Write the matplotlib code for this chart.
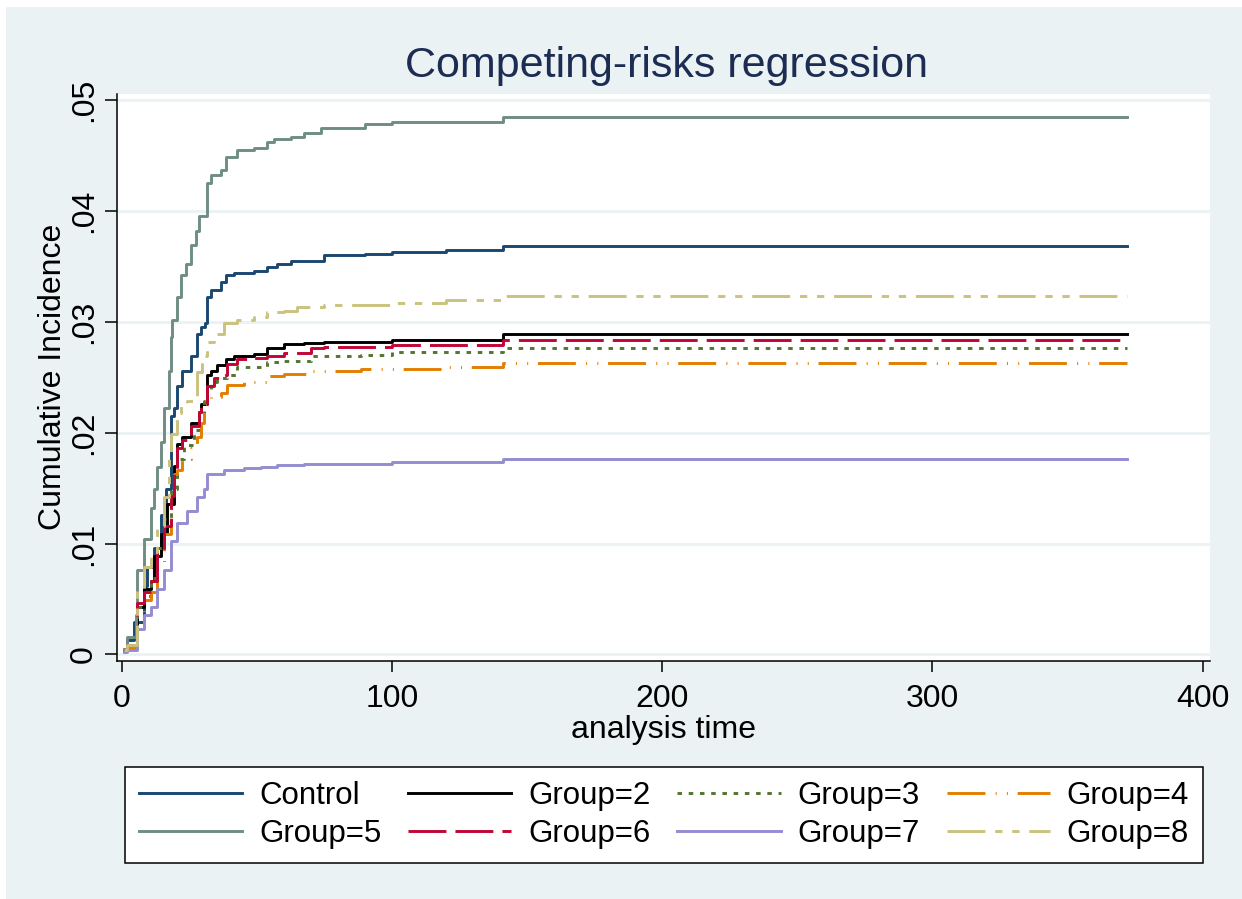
import matplotlib
matplotlib.use("Agg")
import matplotlib.pyplot as plt
from matplotlib.patches import Rectangle

plt.rcParams['font.family'] = ['Liberation Sans', 'DejaVu Sans']

# cumulative incidence (time, value); last point = end of follow-up
t_control = [1, 2.1, 4.6, 8.3, 9.5, 11.9, 14.4, 16.3, 18.1, 19.3, 20.6, 22.4, 25.5, 27.9, 29.2, 31.0, 31.7, 32.9, 36.6, 38.5, 41.6, 49.0, 53.9, 57.6, 62.5, 74.9, 90, 100, 120, 141, 372]
y_control = [0.0004, 0.0013, 0.0029, 0.0062, 0.0079, 0.0096, 0.0126, 0.0149, 0.0215, 0.0222, 0.0242, 0.0256, 0.0269, 0.0289, 0.0295, 0.0299, 0.0322, 0.0329, 0.0336, 0.0342, 0.0344, 0.0346, 0.0349, 0.0352, 0.0355, 0.0360, 0.0361, 0.0363, 0.0365, 0.0368, 0.0368]

t_g2 = [1, 2.1, 5.8, 8.3, 10.7, 11.9, 14.4, 16.9, 19.4, 20.6, 22.4, 25.5, 28.6, 29.2, 31.7, 32.9, 35.4, 38.5, 41.6, 49.0, 53.9, 60.0, 67.5, 74.9, 100, 141, 372]
y_g2 = [0.0004, 0.0009, 0.0043, 0.0059, 0.0066, 0.0089, 0.0109, 0.0136, 0.0170, 0.0190, 0.0196, 0.0209, 0.0219, 0.0226, 0.0252, 0.0256, 0.0261, 0.0266, 0.0269, 0.0271, 0.0276, 0.0280, 0.0281, 0.0282, 0.0284, 0.0289, 0.0289]

t_g3 = [1, 2.1, 5.8, 8.3, 10.7, 13.2, 15.7, 18.1, 20.6, 23.1, 26.8, 28.6, 30.4, 31.7, 32.9, 35.4, 39.1, 42.8, 53.9, 60.0, 69.9, 88.4, 100, 141, 372]
y_g3 = [0.0004, 0.0009, 0.0043, 0.0053, 0.0069, 0.0096, 0.0122, 0.0149, 0.0176, 0.0189, 0.0202, 0.0216, 0.0229, 0.0236, 0.0246, 0.0249, 0.0252, 0.0259, 0.0264, 0.0265, 0.0269, 0.0270, 0.0273, 0.0276, 0.0276]

t_g4 = [1, 2.1, 5.8, 8.3, 10.7, 13.2, 15.7, 18.1, 19.4, 20.6, 22.4, 25.5, 28.0, 29.2, 30.4, 32.9, 36.6, 39.1, 45.3, 53.9, 60.0, 69.9, 88.4, 120, 141, 372]
y_g4 = [0.0003, 0.0006, 0.0036, 0.0049, 0.0056, 0.0083, 0.0109, 0.0143, 0.0163, 0.0166, 0.0176, 0.0186, 0.0196, 0.0209, 0.0226, 0.0232, 0.0236, 0.0243, 0.0246, 0.0251, 0.0253, 0.0256, 0.0257, 0.0259, 0.0263, 0.0263]

t_g5 = [1, 2.1, 5.2, 5.8, 8.3, 10.7, 11.9, 13.2, 14.4, 15.7, 17.5, 18.1, 18.7, 20.6, 21.8, 23.7, 25.5, 27.4, 28.6, 31.7, 32.9, 36.6, 38.5, 42.8, 49.0, 53.9, 56.4, 62.5, 67.5, 73.6, 90, 100, 141, 372]
y_g5 = [0.0005, 0.0016, 0.0036, 0.0076, 0.0104, 0.0132, 0.0149, 0.0169, 0.0192, 0.0222, 0.0256, 0.0286, 0.0302, 0.0322, 0.0342, 0.0352, 0.0369, 0.0382, 0.0395, 0.0425, 0.0432, 0.0437, 0.0449, 0.0455, 0.0457, 0.0462, 0.0465, 0.0467, 0.0470, 0.0475, 0.0478, 0.0480, 0.0485, 0.0485]

t_g6 = [1, 2.1, 5.8, 8.3, 10.7, 13.2, 15.7, 18.1, 19.4, 20.6, 22.4, 25.5, 28.6, 29.2, 31.7, 34.1, 36.6, 39.1, 42.8, 49.0, 53.9, 60.0, 69.9, 74.9, 100, 141, 372]
y_g6 = [0.0004, 0.0009, 0.0046, 0.0056, 0.0066, 0.0096, 0.0116, 0.0143, 0.0166, 0.0186, 0.0193, 0.0206, 0.0219, 0.0226, 0.0242, 0.0249, 0.0252, 0.0262, 0.0266, 0.0267, 0.0269, 0.0272, 0.0276, 0.0277, 0.0279, 0.0284, 0.0284]

t_g7 = [1, 2.1, 5.8, 8.3, 10.7, 13.2, 15.7, 18.1, 20.6, 24.3, 28.0, 30.4, 31.7, 37.8, 45.3, 51.4, 57.6, 67.5, 100, 141, 372]
y_g7 = [0.0002, 0.0004, 0.0023, 0.0036, 0.0043, 0.0059, 0.0076, 0.0102, 0.0119, 0.0129, 0.0142, 0.0149, 0.0163, 0.0166, 0.0168, 0.0169, 0.0171, 0.0172, 0.0174, 0.0176, 0.0176]

t_g8 = [1, 2.1, 5.8, 8.3, 10.7, 13.2, 15.7, 17.5, 18.1, 20.6, 21.8, 24.3, 28.0, 29.8, 31.7, 34.1, 37.8, 42.8, 49.0, 53.9, 60.0, 65.0, 74.9, 100, 120, 141, 372]
y_g8 = [0.0004, 0.0009, 0.0059, 0.0079, 0.0092, 0.0116, 0.0142, 0.0176, 0.0199, 0.0218, 0.0225, 0.0229, 0.0255, 0.0269, 0.0282, 0.0289, 0.0299, 0.0302, 0.0304, 0.0309, 0.0310, 0.0313, 0.0315, 0.0317, 0.0320, 0.0323, 0.0323]

labels = ['Control', 'Group=2', 'Group=3', 'Group=4', 'Group=5', 'Group=6', 'Group=7', 'Group=8']
colors = ['#1A476F', '#000000', '#55752F', '#E37E00', '#6E8E84', '#C10534', '#938DD2', '#CAC27E']
styles = ['-', '-', (0, (1.55, 2.3)), (0, (13, 3.5, 0.35, 3.5, 0.35, 3.35)),
          '-', (0, (13, 3.1)), '-', (0, (13, 3.35, 2.5, 3.35, 2.5, 3.35))]

series = [(t_control, y_control), (t_g2, y_g2), (t_g3, y_g3), (t_g4, y_g4),
          (t_g5, y_g5), (t_g6, y_g6), (t_g7, y_g7), (t_g8, y_g8)]

bg = '#EAF2F3'
fig = plt.figure(figsize=(12.42, 8.99), dpi=100)
fig.patch.set_facecolor('white')
fig.patches.append(Rectangle((6 / 1242, 0), 1, 1 - 7 / 899, transform=fig.transFigure,
                             facecolor=bg, edgecolor='none', zorder=-10))

ax = fig.add_axes([116.7 / 1242, 1 - 660.7 / 899, (1210 - 116.7) / 1242, (660.7 - 94) / 899])
ax.set_zorder(1)
ax.set_facecolor('white')

lines = []
for (t, y), lab, c, ls in zip(series, labels, colors, styles):
    ln, = ax.step(t, y, where='post', color=c, linestyle=ls, linewidth=2.1, label=lab)
    lines.append(ln)

ax.set_xlim(-1.85, 402.7)
ax.set_ylim(-0.00056, 0.05054)
ax.set_xticks([0, 100, 200, 300, 400])
ax.set_yticks([0, 0.01, 0.02, 0.03, 0.04, 0.05])
ax.set_yticklabels(['0', '.01', '.02', '.03', '.04', '.05'], rotation=90, va='center')
ax.tick_params(axis='y', length=8.6, width=1.1, pad=4, labelsize=23)
ax.tick_params(axis='x', length=8, width=1.1, pad=9, labelsize=23)
ax.grid(axis='y', color=bg, linewidth=2)
ax.set_axisbelow(True)
for s in ['top', 'right']:
    ax.spines[s].set_visible(False)
for s in ['left', 'bottom']:
    ax.spines[s].set_linewidth(1.1)

ax.set_xlabel('analysis time', fontsize=23)
ax.xaxis.label.set_va('center')
ax.xaxis.set_label_coords(0.5, -(730 - 660.7) / 566.7)
ax.set_ylabel('Cumulative Incidence', fontsize=23)
ax.yaxis.label.set_va('center')
ax.yaxis.set_label_coords(-(116.7 - 53) / 1093.3, 0.5)

fig.text(666 / 1242, 1 - 76.7 / 899, 'Competing-risks regression', ha='center', va='baseline',
         fontsize=31, color='#1C2C52')

# matplotlib fills legend columns first, so reorder to get row-wise layout
order = [0, 4, 1, 5, 2, 6, 3, 7]
leg = fig.legend([lines[i] for i in order], [labels[i] for i in order], ncol=4, loc='center',
                 bbox_to_anchor=(664 / 1242, 1 - 815 / 899), fontsize=22.5, frameon=True,
                 fancybox=False, edgecolor='black', facecolor='white', framealpha=1,
                 handlelength=3.3, handletextpad=0.54, columnspacing=0.86,
                 labelspacing=0.28, borderpad=0.45)
leg.get_frame().set_linewidth(1.1)

fig.savefig('out.png', dpi=100, facecolor=fig.get_facecolor())
